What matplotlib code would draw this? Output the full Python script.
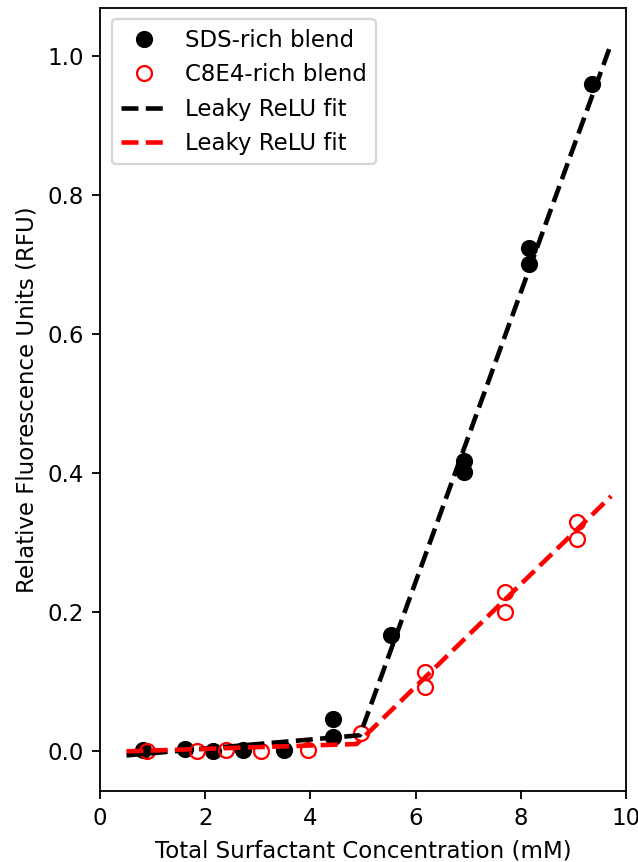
import numpy as np
import matplotlib
matplotlib.use("Agg")
import matplotlib.pyplot as plt

sds_x = [0.82, 1.62, 2.14, 2.71, 3.50, 4.42, 4.42, 5.53, 6.92, 6.92, 8.16, 8.16, 9.35]
sds_y = [0.002, 0.003, 0.001, 0.002, 0.002, 0.020, 0.046, 0.167, 0.401, 0.417, 0.701, 0.723, 0.959]

c8_x = [0.89, 1.84, 2.40, 3.06, 3.95, 4.96, 6.18, 6.18, 7.70, 7.70, 9.07, 9.07]
c8_y = [0.001, 0.001, 0.002, 0.001, 0.002, 0.026, 0.093, 0.114, 0.200, 0.229, 0.305, 0.330]

# Fit-Parameter: Knickpunkt, Wert am Knick, Steigung unten, Steigung oben
sds_fit = [4.94, 0.023, 0.0065, 0.208]
c8_fit = [4.88, 0.0105, 0.0024, 0.0736]


def leaky_relu(x, x0, y0, s_low, s_high):
    return np.where(x < x0, y0 + s_low * (x - x0), y0 + s_high * (x - x0))


x_fit = np.linspace(0.5, 9.72, 300)

dpi = 165
fig = plt.figure(figsize=(638 / dpi, 862 / dpi), dpi=dpi)
ax = fig.add_subplot(111)
fig.subplots_adjust(left=0.157, right=0.981, bottom=0.0824, top=0.9907)

ax.plot(sds_x, sds_y, "o", color="black", ms=6.5, label="SDS-rich blend")
ax.plot(c8_x, c8_y, "o", mfc="none", mec="red", ms=6.5, label="C8E4-rich blend")
ax.plot(x_fit, leaky_relu(x_fit, *sds_fit), "--", color="black", lw=2, label="Leaky ReLU fit")
ax.plot(x_fit, leaky_relu(x_fit, *c8_fit), "--", color="red", lw=2, label="Leaky ReLU fit")

ax.set_xlim(0, 10)
ax.set_xlabel("Total Surfactant Concentration (mM)")
ax.set_ylabel("Relative Fluorescence Units (RFU)")
ax.legend(loc="upper left")

plt.savefig("out.png", dpi=dpi)
